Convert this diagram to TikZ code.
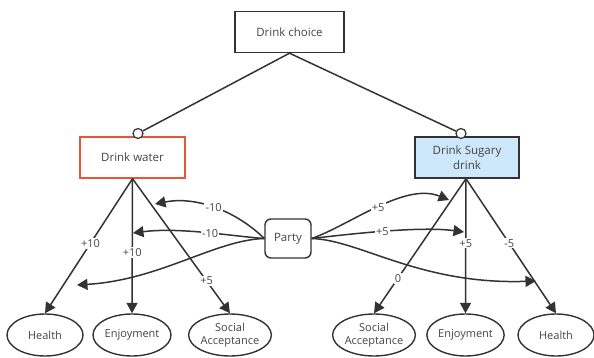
\documentclass[tikz,border=0pt]{standalone}
\usepackage{fontspec}
\setmainfont{Open Sans}
\usetikzlibrary{arrows.meta,shapes.geometric}
\definecolor{ink}{HTML}{333333}
\definecolor{txt}{HTML}{444444}
\definecolor{redb}{HTML}{E8553A}
\definecolor{bluef}{HTML}{CCE8FA}
\begin{document}
\begin{tikzpicture}[x=1pt,y=-1pt,
  every node/.style={font=\fontsize{11.5}{15.5}\selectfont, text=txt},
  box/.style={draw=ink, line width=1.4pt, minimum width=105pt, minimum height=41pt, inner sep=2pt, align=center},
  oval/.style={ellipse, draw=ink, line width=1.4pt, minimum width=76pt, minimum height=42pt, inner sep=0pt, align=center, font=\fontsize{11}{13.5}\selectfont},
  knob/.style={circle, draw=ink, fill=white, line width=1.2pt, minimum size=10pt, inner sep=0pt},
  conn/.style={draw=ink, line width=1.5pt},
  arr/.style={conn, -{Triangle[length=10.5pt,width=11pt]}},
  lab/.style={fill=white, inner sep=1.2pt, text=txt, font=\fontsize{11}{13}\selectfont}]
\useasboundingbox (0,0) rectangle (594,358);
% boxes
\node[box, minimum width=109pt] (choice) at (289.5,32) {Drink choice};
\node[box, draw=redb] (water) at (132.5,157.5) {Drink water};
\node[box, fill=bluef, minimum width=104pt] (sugary) at (467,157.5) {Drink Sugary\\drink};
\node[knob] (cw) at (138,133.5) {};
\node[knob] (cs) at (461,133.5) {};
\draw[conn] (choice.south) -- (cw);
\draw[conn] (choice.south) -- (cs);
% party
\node[draw=ink, line width=1.4pt, rounded corners=6pt, minimum width=46pt, minimum height=39pt, inner sep=1pt] (party) at (288,238.5) {Party};
% outcomes
\node[oval] (h1) at (45,335) {Health};
\node[oval, minimum width=78pt] (e1) at (132,335) {Enjoyment};
\node[oval] (s1) at (230,335) {Social\\Acceptance};
\node[oval] (s2) at (374,335) {Social\\Acceptance};
\node[oval, minimum width=74pt] (e2) at (465.5,335) {Enjoyment};
\node[oval] (h2) at (556,335) {Health};
% water arrows
\draw[arr] (water.south) -- node[lab,pos=0.48]{+10} (h1.north);
\draw[arr] (water.south) -- node[lab,pos=0.55]{+10} (e1.north);
\draw[arr] (water.south) -- node[lab,pos=0.76]{+5} (s1.north);
% sugary arrows
\draw[arr] ([xshift=-1pt]sugary.south) -- node[lab,pos=0.74]{0} (s2.north);
\draw[arr] ([xshift=-1pt]sugary.south) -- node[lab,pos=0.48]{+5} (e2.north);
\draw[arr] ([xshift=-1pt]sugary.south) -- node[lab,pos=0.48]{-5} (h2.north);
% party influences
\coordinate (pl1) at (155,204);
\coordinate (pl2) at (133,233);
\coordinate (pl3) at (77,285);
\coordinate (pr1) at (449,200);
\coordinate (pr2) at (464,232);
\coordinate (pr3) at (536,281);
\draw[arr] (party.west) .. controls (235,210) and (195,196) .. node[lab,pos=0.5]{-10} (pl1);
\draw[arr] (party.west) .. controls (230,236) and (180,227) .. node[lab,pos=0.45]{-10} (pl2);
\draw[arr] (party.west) .. controls (215,240) and (160,280) .. (pl3);
\draw[arr] (party.east) .. controls (350,225) and (405,182) .. node[lab,pos=0.5]{+5} (pr1);
\draw[arr] (party.east) .. controls (350,234) and (420,226) .. node[lab,pos=0.48]{+5} (pr2);
\draw[arr] (party.east) .. controls (360,240) and (420,285) .. (pr3);
\end{tikzpicture}
\end{document}
